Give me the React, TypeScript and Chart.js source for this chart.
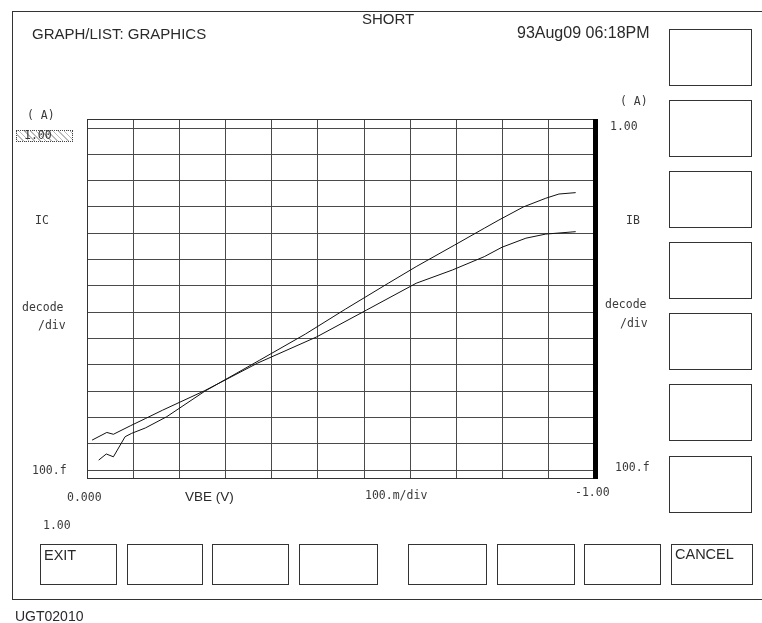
import React, { useEffect, useRef } from "react";
import { Chart, registerables } from "chart.js";
Chart.register(...registerables);

// ---- data (VBE in volts, currents in amperes) ----
const vbeIC = [-0.023, -0.038, -0.052, -0.075, -0.088, -0.115, -0.157, -0.232, -0.340, -0.430, -0.509, -0.593, -0.648, -0.724, -0.782, -0.811, -0.859, -0.903, -0.929, -0.962];
const icValues = [2.4e-13, 4.1e-13, 3.2e-13, 1.86e-12, 2.5e-12, 4.0e-12, 1.07e-11, 1.0e-10, 1.51e-9, 1.48e-8, 1.32e-7, 1.26e-6, 5.4e-6, 3.6e-5, 1.55e-4, 3.2e-4, 1.0e-3, 2.14e-3, 3.1e-3, 3.5e-3];
const vbeIB = [-0.010, -0.039, -0.052, -0.086, -0.115, -0.149, -0.232, -0.336, -0.452, -0.550, -0.648, -0.719, -0.782, -0.817, -0.864, -0.903, -0.962];
const ibValues = [1.38e-12, 2.7e-12, 2.3e-12, 4.9e-12, 9.1e-12, 1.9e-11, 1.05e-10, 1.17e-9, 1.15e-8, 1.2e-7, 1.26e-6, 4.0e-6, 1.29e-5, 2.95e-5, 6.5e-5, 9.3e-5, 1.15e-4];
const yDecadeTicks = [1e-13, 1e-12, 1e-11, 1e-10, 1e-9, 1e-8, 1e-7, 1e-6, 1e-5, 1e-4, 1e-3, 1e-2, 1e-1, 1];
const xDivisions = 11;

const W = 762;
const H = 623;
const AREA = { left: 87, top: 119, right: 595, bottom: 478 };

const SANS = '"Liberation Sans", Arial, sans-serif';
const MONO = '"DejaVu Sans Mono", "Liberation Mono", monospace';

type LabelProps = { x: number; y: number; text: string; mono?: boolean; size?: number; color?: string };
function Label({ x, y, text, mono, size, color }: LabelProps) {
  return (
    <div
      style={{
        position: "absolute",
        left: x,
        top: y,
        transform: "translateY(-50%)",
        lineHeight: 1,
        whiteSpace: "nowrap",
        fontFamily: mono ? MONO : SANS,
        fontSize: size ?? (mono ? 11.5 : 15),
        color: color ?? (mono ? "#3a3a3a" : "#2a2a2a"),
      }}
    >
      {text}
    </div>
  );
}

function Box({ x, y, w, h, children }: { x: number; y: number; w: number; h: number; children?: React.ReactNode }) {
  return (
    <div
      style={{
        position: "absolute",
        left: x,
        top: y,
        width: w,
        height: h,
        boxSizing: "border-box",
        border: "1px solid #333",
      }}
    >
      {children}
    </div>
  );
}

const rightBoxTops = [29, 100, 171, 242, 313, 384, 456];
const bottomBoxes = [
  [40, 117],
  [127, 203],
  [212, 289],
  [299, 378],
  [408, 487],
  [497, 575],
  [584, 661],
  [671, 753],
];

export default function App() {
  const canvasRef = useRef<HTMLCanvasElement | null>(null);

  useEffect(() => {
    const canvas = canvasRef.current;
    if (!canvas) return;

    const framePlugin = {
      id: "frame",
      afterDraw(chart: any) {
        const { ctx, chartArea } = chart;
        ctx.save();
        ctx.strokeStyle = "#333";
        ctx.lineWidth = 1;
        ctx.strokeRect(chartArea.left + 0.5, chartArea.top + 0.5, chartArea.right - chartArea.left, chartArea.bottom - chartArea.top);
        ctx.fillStyle = "#000";
        ctx.fillRect(chartArea.right - 2, chartArea.top, 5, chartArea.bottom - chartArea.top + 1);
        ctx.restore();
      },
    };

    const chart = new Chart(canvas, {
      type: "line",
      data: {
        datasets: [
          {
            label: "IC",
            data: vbeIC.map((x, i) => ({ x, y: icValues[i] })),
            borderColor: "#111",
            borderWidth: 1,
            pointRadius: 0,
            tension: 0,
            fill: false,
          },
          {
            label: "IB",
            data: vbeIB.map((x, i) => ({ x, y: ibValues[i] })),
            borderColor: "#111",
            borderWidth: 1,
            pointRadius: 0,
            tension: 0,
            fill: false,
          },
        ],
      },
      options: {
        animation: false,
        responsive: false,
        maintainAspectRatio: false,
        layout: {
          padding: { left: AREA.left, top: AREA.top, right: W - AREA.right, bottom: H - AREA.bottom },
        },
        plugins: { legend: { display: false }, tooltip: { enabled: false } },
        scales: {
          x: {
            type: "linear",
            min: -1,
            max: 0,
            reverse: true,
            afterFit: (s: any) => {
              s.height = 0;
            },
            afterBuildTicks: (s: any) => {
              const t = [];
              for (let i = 0; i <= xDivisions; i++) t.push({ value: -i / xDivisions });
              s.ticks = t;
            },
            ticks: { display: false },
            grid: { color: "#4a4a4a", lineWidth: 1, drawTicks: false },
            border: { display: false },
          },
          y: {
            type: "logarithmic",
            min: Math.pow(10, -13.3),
            max: Math.pow(10, 0.342),
            afterFit: (s: any) => {
              s.width = 0;
            },
            afterBuildTicks: (s: any) => {
              s.ticks = yDecadeTicks.map((v) => ({ value: v }));
            },
            ticks: { display: false },
            grid: { color: "#4a4a4a", lineWidth: 1, drawTicks: false },
            border: { display: false },
          },
        },
      },
      plugins: [framePlugin],
    } as any);

    return () => chart.destroy();
  }, []);

  return (
    <div style={{ position: "fixed", left: 0, top: 0, width: W, height: H, background: "#fff", overflow: "hidden" }}>
      <canvas ref={canvasRef} width={W} height={H} style={{ position: "absolute", left: 0, top: 0, width: W, height: H }} />

      {/* outer frame */}
      <div
        style={{
          position: "absolute",
          left: 12,
          top: 11,
          width: W,
          height: 589,
          borderLeft: "1px solid #333",
          borderTop: "1px solid #333",
          borderBottom: "1px solid #333",
          boxSizing: "border-box",
        }}
      />

      {/* header */}
      <Label x={32} y={32.5} text="GRAPH/LIST: GRAPHICS" size={15} />
      <Label x={362} y={18} text="SHORT" size={15} />
      <Label x={517} y={32.5} text="93Aug09 06:18PM" size={16} />

      {/* left axis */}
      <Label x={27} y={116} text="( A)" mono />
      <div
        style={{
          position: "absolute",
          left: 16,
          top: 130,
          width: 57,
          height: 12,
          boxSizing: "border-box",
          border: "1px dotted #444",
          backgroundImage: "repeating-linear-gradient(45deg, #bbb 0 1px, transparent 1px 4px)",
        }}
      />
      <Label x={24} y={136} text="1.00" mono color="#333" />
      <Label x={35} y={221} text="IC" mono />
      <Label x={22} y={308} text="decode" mono />
      <Label x={38} y={326} text="/div" mono />
      <Label x={32} y={471} text="100.f" mono />

      {/* right axis */}
      <Label x={620} y={102} text="( A)" mono />
      <Label x={610} y={127} text="1.00" mono />
      <Label x={626} y={221} text="IB" mono />
      <Label x={605} y={305} text="decode" mono />
      <Label x={620} y={324} text="/div" mono />
      <Label x={615} y={468} text="100.f" mono />

      {/* bottom axis */}
      <Label x={67} y={497.5} text="0.000" mono />
      <Label x={185} y={497} text="VBE (V)" size={13.5} />
      <Label x={365} y={496} text="100.m/div" mono />
      <Label x={575} y={493} text="-1.00" mono />
      <Label x={43} y={526} text="1.00" mono />

      {/* right soft keys */}
      {rightBoxTops.map((t, i) => (
        <Box key={"r" + i} x={669} y={t} w={83} h={57} />
      ))}

      {/* bottom soft keys */}
      {bottomBoxes.map(([a, b], i) => (
        <Box key={"b" + i} x={a} y={544} w={b - a} h={41} />
      ))}
      <Label x={44} y={555} text="EXIT" size={14.5} />
      <Label x={675} y={554} text="CANCEL" size={14.5} />

      <Label x={15} y={616} text="UGT02010" size={14} />
    </div>
  );
}
